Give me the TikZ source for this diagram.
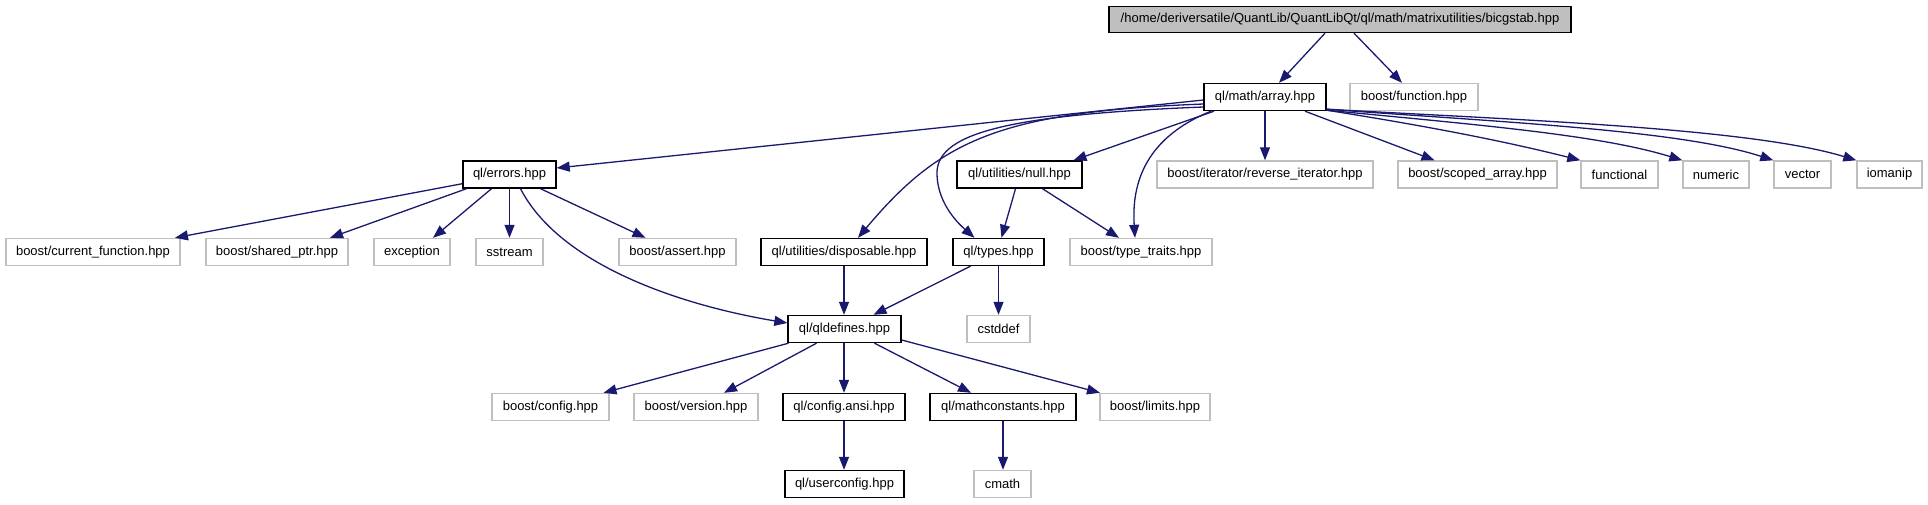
\documentclass[tikz,border=0pt]{standalone}
\usepackage{fontspec}
\setmainfont{Liberation Sans}
\usetikzlibrary{arrows.meta,calc}
\definecolor{edgeblue}{HTML}{191970}
\definecolor{extgray}{HTML}{BFBFBF}
\definecolor{topgray}{HTML}{BFBFBF}
\tikzset{
  box/.style={draw, line width=1.4pt, minimum height=27pt, inner sep=0pt, font=\fontsize{13}{15}\selectfont},
  extbox/.style={box, draw=extgray},
  intbox/.style={box, draw=black},
  topbox/.style={box, draw=black, fill=topgray},
  edge/.style={draw=edgeblue, line width=1.3pt, -{Triangle[length=13pt,width=10pt]}}
}
\begin{document}
\begin{tikzpicture}[x=1pt,y=-1pt]
\useasboundingbox (0,0) rectangle (1928,504);
% row 1
\node[topbox, minimum width=462pt, minimum height=26pt] (top) at (1340,19.5) {/home/deriversatile/QuantLib/QuantLibQt/ql/math/matrixutilities/bicgstab.hpp};
% row 2
\node[intbox, minimum width=122pt] (array) at (1265,97) {ql/math/array.hpp};
\node[extbox, minimum width=128pt] (function) at (1414,97) {boost/function.hpp};
% row 3
\node[intbox, minimum width=93pt] (errors) at (509.5,174.5) {ql/errors.hpp};
\node[intbox, minimum width=125pt] (null) at (1019.5,174.5) {ql/utilities/null.hpp};
\node[extbox, minimum width=216pt] (revit) at (1265,174.5) {boost/iterator/reverse\_iterator.hpp};
\node[extbox, minimum width=159pt] (scoped) at (1477.5,174.5) {boost/scoped\_array.hpp};
\node[extbox, minimum width=77pt] (functional) at (1619.5,174.5) {functional};
\node[extbox, minimum width=66pt] (numeric) at (1716,174.5) {numeric};
\node[extbox, minimum width=57pt] (vector) at (1802.5,174.5) {vector};
\node[extbox, minimum width=65pt] (iomanip) at (1889.5,174.5) {iomanip};
% row 4
\node[extbox, minimum width=174pt] (curfunc) at (93,252) {boost/current\_function.hpp};
\node[extbox, minimum width=142pt] (shared) at (277,252) {boost/shared\_ptr.hpp};
\node[extbox, minimum width=76pt] (exception) at (412,252) {exception};
\node[extbox, minimum width=67pt] (sstream) at (509.5,252) {sstream};
\node[extbox, minimum width=117pt] (assert) at (677.5,252) {boost/assert.hpp};
\node[intbox, minimum width=166pt] (disposable) at (844,252) {ql/utilities/disposable.hpp};
\node[intbox, minimum width=91pt] (types) at (998.5,252) {ql/types.hpp};
\node[extbox, minimum width=142pt] (traits) at (1141,252) {boost/type\_traits.hpp};
% row 5
\node[intbox, minimum width=113pt] (qldefines) at (844.5,329) {ql/qldefines.hpp};
\node[extbox, minimum width=63pt] (cstddef) at (998.5,329) {cstddef};
% row 6
\node[extbox, minimum width=117pt] (config) at (550.5,407) {boost/config.hpp};
\node[extbox, minimum width=124pt] (version) at (696,407) {boost/version.hpp};
\node[intbox, minimum width=122pt] (configansi) at (844,407) {ql/config.ansi.hpp};
\node[intbox, minimum width=146pt] (mathconst) at (1003,407) {ql/mathconstants.hpp};
\node[extbox, minimum width=110pt] (limits) at (1155,407) {boost/limits.hpp};
% row 7
\node[intbox, minimum width=119pt] (userconfig) at (844.5,484) {ql/userconfig.hpp};
\node[extbox, minimum width=57pt] (cmath) at (1002.5,484) {cmath};

% edges from top
\draw[edge] ([xshift=-15pt]top.south) -- ([xshift=14pt]array.north);
\draw[edge] ([xshift=14pt]top.south) -- ([xshift=-12pt]function.north);
% edges from array
\draw[edge] ([yshift=-3pt]array.west) -- ([yshift=6.5pt]errors.east);
\draw[edge] ([yshift=-7pt]array.west) .. controls (1000,112) and (940,140) .. ([xshift=14pt]disposable.north);
\draw[edge] ([yshift=-10pt]array.west) .. controls (1000,115) and (935,135) .. (937,175) .. controls (938,205) and (960,225) .. ([xshift=-24pt]types.north);
\draw[edge] ([xshift=-51pt]array.south) -- ([xshift=54pt]null.north);
\draw[edge] ([xshift=-54pt]array.south) .. controls (1140,140) and (1132,190) .. ([xshift=-6pt]traits.north);
\draw[edge] (array.south) -- (revit.north);
\draw[edge] ([xshift=40pt]array.south) -- ([xshift=-43pt]scoped.north);
\draw[edge] ([yshift=1pt]array.south east) .. controls (1420,125) and (1500,140) .. (functional.north west);
\draw[edge] ([yshift=1pt]array.south east) .. controls (1480,125) and (1600,135) .. (numeric.north west);
\draw[edge] ([yshift=2pt]array.south east) .. controls (1500,122) and (1680,130) .. (vector.north west);
\draw[edge] ([yshift=2pt]array.south east) .. controls (1520,120) and (1750,128) .. (iomanip.north west);
% edges from errors
\draw[edge] ([yshift=5pt]errors.south west) -- ([xshift=82pt]curfunc.north);
\draw[edge] ([xshift=-43pt]errors.south) -- ([xshift=53pt]shared.north);
\draw[edge] ([xshift=-18pt]errors.south) -- ([xshift=21pt]exception.north);
\draw[edge] (errors.south) -- (sstream.north);
\draw[edge] ([xshift=31pt]errors.south) -- ([xshift=-32pt]assert.north);
\draw[edge] ([xshift=11pt]errors.south) .. controls (560,265) and (680,305) .. ([yshift=6pt]qldefines.west);
% edges from null
\draw[edge] ([xshift=-4pt]null.south) -- ([xshift=3pt]types.north);
\draw[edge] ([xshift=23pt]null.south) -- ([xshift=-22pt]traits.north);
% disposable, types
\draw[edge] (disposable.south) -- (qldefines.north -| disposable.south);
\draw[edge] ([xshift=-28pt]types.south) -- ([xshift=29pt]qldefines.north);
\draw[edge] (types.south) -- (cstddef.north);
% qldefines
\draw[edge] ([xshift=-56pt]qldefines.south) -- ([xshift=53pt]config.north);
\draw[edge] ([xshift=-28pt]qldefines.south) -- ([xshift=28pt]version.north);
\draw[edge] (configansi.north |- qldefines.south) -- (configansi.north);
\draw[edge] ([xshift=30pt]qldefines.south) -- ([xshift=-32pt]mathconst.north);
\draw[edge] ([yshift=-11pt]qldefines.east) -- ([xshift=-55pt]limits.north);
\draw[edge] (configansi.south) -- (userconfig.north -| configansi.south);
\draw[edge] (mathconst.south) -- (cmath.north -| mathconst.south);
\end{tikzpicture}
\end{document}
